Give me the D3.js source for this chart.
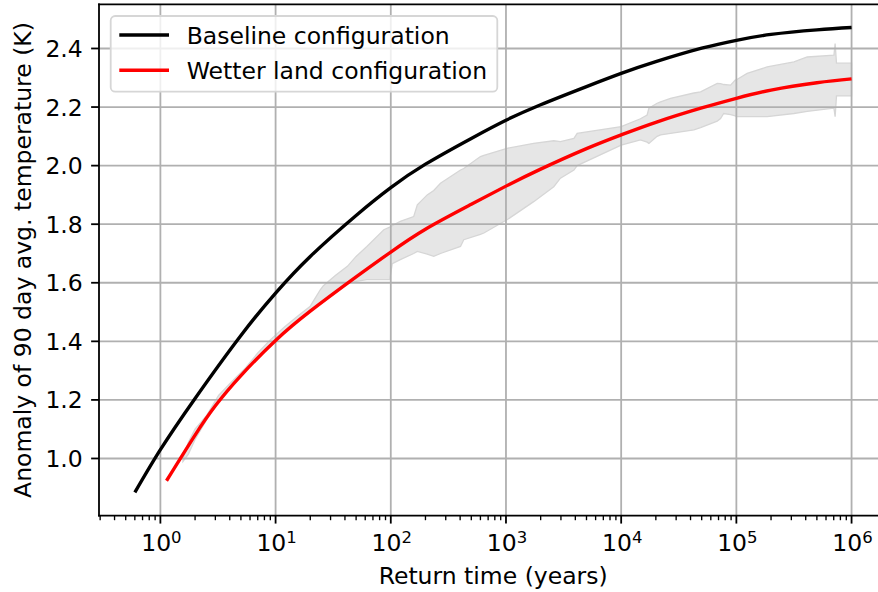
<!DOCTYPE html>
<html>
<head>
<meta charset="utf-8">
<script src="https://cdn.jsdelivr.net/npm/d3@7/dist/d3.min.js"></script>
<style>
  body { margin: 0; background: #ffffff; }
  text { font-family: "DejaVu Sans", sans-serif; fill: #000; }
</style>
</head>
<body>
<svg id="chart" width="878" height="592"></svg>
<script>
// values
var baselineTimes = [0.6, 1, 2, 5, 10, 20, 50, 100, 200, 500, 1e3, 2e3, 5e3, 1e4, 2e4, 5e4, 1e5, 2e5, 5e5, 1e6];
var baselineValues = [0.884, 1.03, 1.205, 1.42, 1.565, 1.69, 1.83, 1.925, 2.005, 2.093, 2.155, 2.208, 2.27, 2.315, 2.355, 2.401, 2.428, 2.448, 2.4635, 2.4715];

var wetterTimes = [1.13, 2, 3, 5, 10, 20, 50, 100, 200, 500, 1e3, 2e3, 5e3, 1e4, 2e4, 5e4, 1e5, 2e5, 5e5, 1e6];
var wetterValues = [0.924, 1.08, 1.18, 1.283, 1.403, 1.503, 1.62, 1.705, 1.783, 1.868, 1.93, 1.988, 2.058, 2.105, 2.148, 2.197, 2.23, 2.258, 2.283, 2.296];

var bandTimes = [1.57, 1.75, 2, 2.5, 3.2, 4, 5.5, 7, 9, 12, 16, 20, 24.5, 26, 33, 42, 50, 62, 87, 98, 103, 121, 158, 170, 207, 236, 270, 403, 430, 600, 643, 1020, 1740, 2600, 2970, 3890, 4150, 1e4, 14700, 16800, 17400, 20500, 22000, 26800, 42800, 48900, 68200, 72900, 77600, 89100, 97700, 1.02e5, 1.24e5, 1.85e5, 3.16e5, 4.12e5, 7.03e5, 7.2e5, 7.4e5, 1e6];
var bandLower = [0.99, 1.015, 1.065, 1.13, 1.195, 1.24, 1.3, 1.34, 1.385, 1.43, 1.47, 1.5, 1.528, 1.535, 1.565, 1.599, 1.605, 1.611, 1.611, 1.611, 1.665, 1.679, 1.7, 1.707, 1.698, 1.69, 1.7, 1.724, 1.747, 1.765, 1.77, 1.815, 1.877, 1.928, 1.957, 1.985, 2.0, 2.07, 2.088, 2.08, 2.076, 2.1, 2.105, 2.11, 2.122, 2.13, 2.152, 2.161, 2.178, 2.174, 2.17, 2.167, 2.167, 2.167, 2.178, 2.185, 2.196, 2.167, 2.238, 2.238];
var bandUpper = [1.0, 1.055, 1.1, 1.145, 1.215, 1.255, 1.31, 1.36, 1.405, 1.45, 1.49, 1.52, 1.577, 1.59, 1.625, 1.656, 1.69, 1.724, 1.781, 1.79, 1.795, 1.81, 1.826, 1.866, 1.9, 1.915, 1.94, 1.985, 1.99, 2.031, 2.035, 2.059, 2.076, 2.085, 2.082, 2.093, 2.11, 2.133, 2.16, 2.173, 2.196, 2.213, 2.218, 2.23, 2.248, 2.252, 2.281, 2.28, 2.277, 2.275, 2.292, 2.295, 2.315, 2.337, 2.354, 2.371, 2.377, 2.417, 2.35, 2.35];

var yTicks = [1.0, 1.2, 1.4, 1.6, 1.8, 2.0, 2.2, 2.4];
var xTickExponents = [0, 1, 2, 3, 4, 5, 6];
var seriesNames = ["Baseline configuration", "Wetter land configuration"];
var seriesColors = ["#000000", "#ff0000"];

var svg = d3.select("#chart");
var plotLeft = 99, plotRight = 887.4, plotTop = 4.3, plotBottom = 515.7;
var pt = 2.25;
var fontSize = "23.5px";

// 5% padding in log-x and y, like matplotlib autoscale
var lx = [Math.log10(baselineTimes[0]), Math.log10(baselineTimes[baselineTimes.length - 1])];
var lpad = (lx[1] - lx[0]) * 0.05;
var x = d3.scaleLog()
  .domain([Math.pow(10, lx[0] - lpad), Math.pow(10, lx[1] + lpad)])
  .range([plotLeft, plotRight]);

var yMin = d3.min(baselineValues), yMax = d3.max(baselineValues);
var ypad = (yMax - yMin) * 0.05;
var y = d3.scaleLinear()
  .domain([yMin - ypad, yMax + ypad])
  .range([plotBottom, plotTop]);

// confidence band
var bandData = bandTimes.map(function(t, i) {
  return { t: t, lo: bandLower[i], hi: bandUpper[i] };
});
svg.append("path")
  .datum(bandData)
  .attr("d", d3.area()
    .x(function(d) { return x(d.t); })
    .y0(function(d) { return y(d.lo); })
    .y1(function(d) { return y(d.hi); }))
  .style("fill", "#e6e6e6")
  .style("stroke", "#d6d6d6")
  .style("stroke-width", 1.3);

// grid
var grid = svg.append("g").attr("class", "grid");
xTickExponents.forEach(function(e) {
  grid.append("line")
    .attr("x1", x(Math.pow(10, e))).attr("x2", x(Math.pow(10, e)))
    .attr("y1", plotTop).attr("y2", plotBottom);
});
yTicks.forEach(function(v) {
  grid.append("line")
    .attr("x1", plotLeft).attr("x2", plotRight)
    .attr("y1", y(v)).attr("y2", y(v));
});
grid.selectAll("line")
  .style("stroke", "#b0b0b0")
  .style("stroke-width", 0.8 * pt);

// curves
var line = d3.line()
  .x(function(d) { return x(d[0]); })
  .y(function(d) { return y(d[1]); })
  .curve(d3.curveNatural);

svg.append("path")
  .datum(baselineTimes.map(function(t, i) { return [t, baselineValues[i]]; }))
  .attr("d", line)
  .style("fill", "none")
  .style("stroke", seriesColors[0])
  .style("stroke-width", 1.5 * pt);

svg.append("path")
  .datum(wetterTimes.map(function(t, i) { return [t, wetterValues[i]]; }))
  .attr("d", line)
  .style("fill", "none")
  .style("stroke", seriesColors[1])
  .style("stroke-width", 1.5 * pt);

// spines
var spines = svg.append("g");
spines.append("line").attr("x1", plotLeft).attr("x2", plotLeft).attr("y1", plotTop).attr("y2", plotBottom);
spines.append("line").attr("x1", plotLeft).attr("x2", plotRight).attr("y1", plotBottom).attr("y2", plotBottom);
spines.append("line").attr("x1", plotLeft).attr("x2", plotRight).attr("y1", plotTop).attr("y2", plotTop);
spines.append("line").attr("x1", plotRight).attr("x2", plotRight).attr("y1", plotTop).attr("y2", plotBottom);
spines.selectAll("line")
  .style("stroke", "#000")
  .style("stroke-width", 0.8 * pt)
  .style("stroke-linecap", "square");

// ticks and tick labels
var ticks = svg.append("g");
var minor = [];
for (var e = -1; e <= 6; e++) {
  for (var m = 2; m <= 9; m++) {
    var v = m * Math.pow(10, e);
    if (v >= x.domain()[0] && v <= x.domain()[1]) minor.push(v);
  }
}
minor.forEach(function(v) {
  ticks.append("line")
    .attr("x1", x(v)).attr("x2", x(v))
    .attr("y1", plotBottom).attr("y2", plotBottom + 2 * pt)
    .style("stroke-width", 0.6 * pt);
});
xTickExponents.forEach(function(e) {
  var px = x(Math.pow(10, e));
  ticks.append("line")
    .attr("x1", px).attr("x2", px)
    .attr("y1", plotBottom).attr("y2", plotBottom + 3.5 * pt)
    .style("stroke-width", 0.8 * pt);
  var label = ticks.append("text")
    .attr("x", px + 1)
    .attr("y", 551)
    .attr("text-anchor", "middle")
    .style("font-size", fontSize);
  label.append("tspan").text("10");
  label.append("tspan")
    .attr("dy", -8)
    .style("font-size", "16.5px")
    .text(e);
});
yTicks.forEach(function(v) {
  ticks.append("line")
    .attr("x1", plotLeft - 3.5 * pt).attr("x2", plotLeft)
    .attr("y1", y(v)).attr("y2", y(v))
    .style("stroke-width", 0.8 * pt);
  ticks.append("text")
    .attr("x", plotLeft - 7 * pt - 0.5)
    .attr("y", y(v))
    .attr("dy", "0.36em")
    .attr("text-anchor", "end")
    .style("font-size", fontSize)
    .text(v.toFixed(1));
});
ticks.selectAll("line").style("stroke", "#000");

// axis labels
svg.append("text")
  .attr("x", (plotLeft + plotRight) / 2)
  .attr("y", 583.5)
  .attr("text-anchor", "middle")
  .style("font-size", fontSize)
  .text("Return time (years)");

svg.append("text")
  .attr("transform", "translate(31," + (plotTop + plotBottom) / 2 + ") rotate(-90)")
  .attr("text-anchor", "middle")
  .style("font-size", fontSize)
  .text("Anomaly of 90 day avg. temperature (K)");

// legend
var legend = svg.append("g");
legend.append("rect")
  .attr("x", 110.7).attr("y", 16)
  .attr("width", 386.6).attr("height", 75.7)
  .attr("rx", 4.5).attr("ry", 4.5)
  .style("fill", "#ffffff")
  .style("fill-opacity", 0.8)
  .style("stroke", "#d6d6d6")
  .style("stroke-width", 1.8);
seriesNames.forEach(function(name, i) {
  var ly = 35 + i * 35.3;
  legend.append("line")
    .attr("x1", 119.3).attr("x2", 169)
    .attr("y1", ly).attr("y2", ly)
    .style("stroke", seriesColors[i])
    .style("stroke-width", 1.5 * pt);
  legend.append("text")
    .attr("x", 186.7)
    .attr("y", ly + 9)
    .style("font-size", fontSize)
    .text(name);
});
</script>
</body>
</html>
